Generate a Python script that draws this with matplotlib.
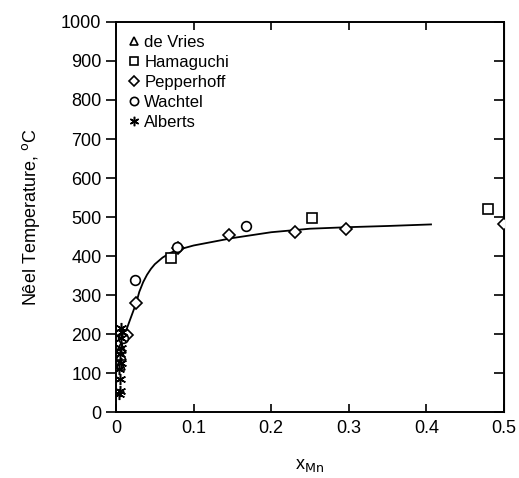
import matplotlib.pyplot as plt

plt.rcParams["font.family"] = ["Liberation Sans", "DejaVu Sans"]
plt.rcParams["font.size"] = 12

# ------------------------------------------------------------------
# Data
# ------------------------------------------------------------------
devries_x = [0.005, 0.006, 0.007]
devries_t = [120, 145, 165]

hamaguchi_x = [0.071, 0.252, 0.479]
hamaguchi_t = [395, 497, 520]

pepperhoff_x = [0.014, 0.026, 0.080, 0.145, 0.231, 0.297, 0.500]
pepperhoff_t = [197, 279, 420, 454, 462, 469, 482]

wachtel_x = [0.009, 0.024, 0.078, 0.167]
wachtel_t = [190, 338, 422, 477]

alberts_x = [0.004, 0.005, 0.005, 0.004, 0.006, 0.005, 0.007, 0.006, 0.008, 0.006]
alberts_t = [45, 55, 85, 110, 125, 150, 165, 190, 205, 215]

# smooth guide curve
fit_x = [0.004, 0.008, 0.012, 0.018, 0.026, 0.030, 0.035, 0.040, 0.045,
         0.050, 0.060, 0.070, 0.080, 0.100, 0.150, 0.200, 0.250, 0.300,
         0.350, 0.406]
fit_t = [130, 175, 203, 236, 279, 308, 333, 352, 367,
         379, 396, 408, 416, 427, 446, 461, 470, 474,
         477, 481]

# ------------------------------------------------------------------
# Plot
# ------------------------------------------------------------------
fig = plt.figure(figsize=(5.19, 4.78), dpi=100)
ax = fig.add_axes([0.2235, 0.138, 0.7475, 0.816])

ax.plot(fit_x, fit_t, color="k", lw=1.3, zorder=2)

mk = dict(ls="None", mfc="white", mec="k", mew=1.2, ms=7, zorder=3)
ax.plot(devries_x, devries_t, marker="^", label="de Vries", **mk)
ax.plot(hamaguchi_x, hamaguchi_t, marker="s", label="Hamaguchi", **mk)
ax.plot(pepperhoff_x, pepperhoff_t, marker="D", label="Pepperhoff",
        **{**mk, "ms": 6.5})
ax.plot(wachtel_x, wachtel_t, marker="o", label="Wachtel", **mk)
ax.plot(alberts_x, alberts_t, marker=(6, 2, 0), label="Alberts",
        ls="None", color="k", mew=1.1, ms=8, zorder=3)

ax.set_xlim(0, 0.5)
ax.set_ylim(0, 1000)
ax.set_xticks([0, 0.1, 0.2, 0.3, 0.4, 0.5])
ax.set_xticklabels(["0", "0.1", "0.2", "0.3", "0.4", "0.5"])
ax.set_yticks(range(0, 1001, 100))

for s in ax.spines.values():
    s.set_linewidth(1.4)
ax.tick_params(axis="y", direction="out", length=7, width=1.2, left=True,
               right=False, labelsize=13)
ax.tick_params(axis="x", direction="in", length=6, width=1.2, top=True,
               labelsize=13, pad=6)
ax2 = ax.secondary_yaxis("right")
ax2.set_yticks(range(0, 1001, 100))
ax2.tick_params(direction="in", length=7, width=1.2, labelright=False)

ax.set_xlabel(r"x$_{\mathrm{Mn}}$", fontsize=13, labelpad=14)
ax.set_ylabel(r"Nêel Temperature, $^{\mathrm{o}}$C", fontsize=13, labelpad=14)

ax.legend(loc="upper left", frameon=False, fontsize=12, handlelength=0.6,
          handletextpad=0.3, labelspacing=0.3, borderaxespad=0.4,
          markerscale=0.85)

fig.savefig("out.png", dpi=100)
